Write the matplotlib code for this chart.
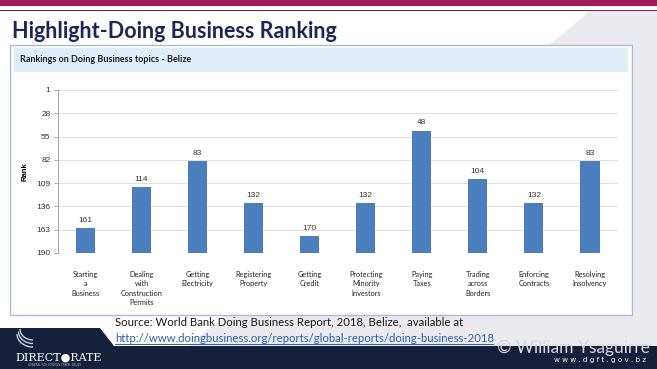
import numpy as np
import matplotlib.pyplot as plt
from matplotlib.patches import Rectangle, Polygon, Arc

# chart data
topics = ["Starting\na\nBusiness", "Dealing\nwith\nConstruction\nPermits", "Getting\nElectricity",
          "Registering\nProperty", "Getting\nCredit", "Protecting\nMinority\nInvestors",
          "Paying\nTaxes", "Trading\nacross\nBorders", "Enforcing\nContracts", "Resolving\nInsolvency"]
ranks = [161, 114, 83, 132, 170, 132, 48, 104, 132, 83]
rank_ticks = [1, 28, 55, 82, 109, 136, 163, 190]

W, H = 657, 369
fig = plt.figure(figsize=(W / 100, H / 100), dpi=100)
fig.patch.set_facecolor("white")

def fx(x):
    return x / W

def fy(y):
    return 1 - y / H

# slide background pieces
bg = fig.add_axes([0, 0, 1, 1])
bg.set_xlim(0, W)
bg.set_ylim(H, 0)
bg.axis("off")
bg.add_patch(Polygon([(590, 11), (W, 11), (W, 348), (590 - 1.2 * 337, 348)],
                     closed=True, color="#ebebef", lw=0))
bg.add_patch(Rectangle((0, 0), W, 6, color="#a3195b", lw=0))
bg.add_patch(Rectangle((0, 9.5), W, 1.6, color="#8c1a4a", lw=0))
bg.text(12, 31, "Highlight-Doing Business Ranking", fontsize=15.5, fontweight="bold",
        color="#1d2657", family="Lato", va="center", ha="left")

# chart box
bg.add_patch(Rectangle((10, 45), 622, 270, facecolor="white", edgecolor="#a8bdd4", lw=1))
bg.add_patch(Rectangle((14, 48), 614, 24, facecolor="#deedf8", lw=0))
bg.text(20, 59, "Rankings on Doing Business topics - Belize", fontsize=6.5, fontweight="bold",
        color="#1e1e1e", family="Lato", va="center", ha="left")

# footer
bg.add_patch(Polygon([(0, 328), (100, 328), (114, 346), (W, 346), (W, H), (0, H)],
                     closed=True, color="#15213a", lw=0))
bg.text(115, 323, "Source: World Bank Doing Business Report, 2018, Belize,  available at",
        fontsize=8.2, color="#1a1a1a", family="Lato", va="center", ha="left")
bg.text(115, 338, "http://www.doingbusiness.org/reports/global-reports/doing-business-2018",
        fontsize=8.2, color="#2d5fa8", family="Lato", va="center", ha="left")
bg.plot([115, 493], [343.5, 343.5], color="#2d5fa8", lw=0.7)
bg.text(650, 348, "\u00a9 William Ysaguirre", fontsize=12.5, color="#d6d8de", family="Lato",
        va="center", ha="right")
bg.text(646, 360, "w w w . d g f t . g o v . b z", fontsize=5.2, color="white",
        family="DejaVu Sans", va="center", ha="right")
for k in range(3):
    bg.add_patch(Arc((33, 334 - k * 2.5), 32 - k * 3, 26 - k * 2, theta1=90, theta2=180,
                     color="#c8ccd6", lw=1.0))
bg.text(15, 358, "DIRECT\u25cfRATE", fontsize=8, color="white", family="DejaVu Serif",
        va="center", ha="left")
bg.text(28, 364.5, "GENERAL FOR FOREIGN TRADE, BELIZE", fontsize=2, color="#aab0bd",
        va="center", ha="left")

# bar chart
ax = fig.add_axes([fx(57.5), fy(253), fx(618) - fx(57.5), (253 - 90) / H])
x = np.arange(len(ranks))
vals = np.array(ranks)
ax.bar(x, 190 - vals, bottom=vals, width=0.34, color="#4a7ebd", zorder=3)
for xi, v in zip(x, vals):
    ax.annotate(str(v), (xi, v), xytext=(0, 3), textcoords="offset points",
                ha="center", va="bottom", fontsize=6, color="#333333", family="Liberation Sans")
ax.set_xlim(-0.5, len(ranks) - 0.5)
ax.set_ylim(190, 1)
ax.set_yticks(rank_ticks)
ax.set_yticklabels([str(t) for t in rank_ticks], fontsize=6, color="#333333",
                   family="Liberation Sans")
ax.yaxis.grid(True, color="#e0e0e0", lw=0.8, zorder=0)
ax.set_xticks(x)
ax.set_xticklabels(topics, fontsize=5.3, color="#222222", family="Lato", linespacing=1.4,
                   va="top")
ax.tick_params(axis="x", length=0, pad=13)
ax.tick_params(axis="y", length=3, width=0.6, color="#999999", pad=2)
for s in ["top", "right", "bottom"]:
    ax.spines[s].set_visible(False)
ax.spines["left"].set_color("#999999")
ax.spines["left"].set_linewidth(0.6)
ax.set_facecolor("none")
ax.set_ylabel("Rank", fontsize=5.5, fontweight="bold", family="Liberation Sans", labelpad=6)

fig.savefig("out.png", dpi=100)
